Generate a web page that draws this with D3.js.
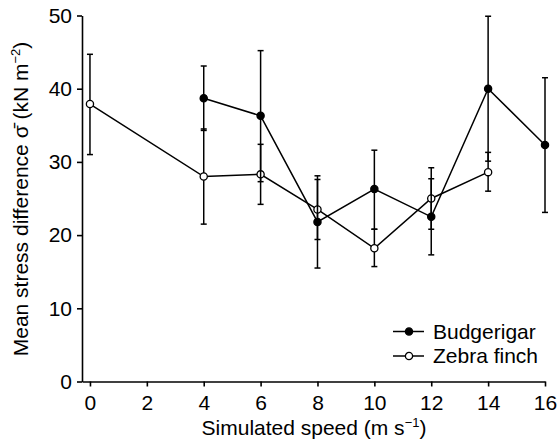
<!DOCTYPE html>
<html>
<head>
<meta charset="utf-8">
<script src="https://cdn.jsdelivr.net/npm/d3@7"></script>
<style>
  body { margin: 0; background: #fff; }
  svg { display: block; font-family: "Liberation Sans", Arial, sans-serif; }
  .axis path, .axis line { stroke: #000; stroke-width: 1.6; }
  .axis text { font-size: 21px; fill: #000; }
</style>
</head>
<body>
<svg width="559" height="446"></svg>
<script>
// values
var budgieSpeed = [4, 6, 8, 10, 12, 14, 16];
var budgieMean  = [38.7, 36.3, 21.8, 26.3, 22.5, 40.0, 32.3];
var budgieLow   = [34.3, 27.3, 15.5, 20.8, 17.3, 30.1, 23.1];
var budgieHigh  = [43.1, 45.2, 28.1, 31.6, 27.7, 49.9, 41.5];

var zebraSpeed = [0, 4, 6, 8, 10, 12, 14];
var zebraMean  = [37.9, 28.0, 28.3, 23.5, 18.2, 25.0, 28.6];
var zebraLow   = [31.0, 21.5, 24.2, 19.4, 15.7, 20.8, 26.0];
var zebraHigh  = [44.7, 34.5, 32.4, 27.6, 20.8, 29.2, 31.3];

var xTicks = [0, 2, 4, 6, 8, 10, 12, 14, 16];
var yTicks = [0, 10, 20, 30, 40, 50];

var svg = d3.select("svg");

var xScale = d3.scaleLinear().domain([-0.28, 16]).range([82, 545]);
var yScale = d3.scaleLinear().domain([0, 50]).range([381.5, 15.5]);

svg.append("g")
    .attr("class", "x axis")
    .attr("transform", "translate(0,381.5)")
    .call(d3.axisBottom(xScale).tickValues(xTicks).tickSize(5).tickSizeOuter(0).tickPadding(9));

svg.append("g")
    .attr("class", "y axis")
    .attr("transform", "translate(82,0)")
    .call(d3.axisLeft(yScale).tickValues(yTicks).tickSize(5).tickSizeOuter(0).tickPadding(5));

// axis titles
svg.append("text")
    .attr("x", 314)
    .attr("y", 435)
    .attr("text-anchor", "middle")
    .style("font-size", "21px")
    .html('Simulated speed (m s<tspan dy="-8" font-size="13">\u22121</tspan><tspan dy="8">)</tspan>');

svg.append("text")
    .attr("transform", "translate(28,199) rotate(-90)")
    .attr("text-anchor", "middle")
    .style("font-size", "21px")
    .html('Mean stress difference \u03c3\u0304 (kN m<tspan dy="-8" font-size="13">\u22122</tspan><tspan dy="8">)</tspan>');

function makeSeries(speed, mean, low, high) {
    return speed.map(function (s, i) {
        return {x: s, y: mean[i], lo: low[i], hi: high[i]};
    });
}

var budgie = makeSeries(budgieSpeed, budgieMean, budgieLow, budgieHigh);
var zebra = makeSeries(zebraSpeed, zebraMean, zebraLow, zebraHigh);

var line = d3.line()
    .x(function (d) { return xScale(d.x); })
    .y(function (d) { return yScale(d.y); });

function drawSeries(data) {
    var g = svg.append("g");
    g.append("path")
        .datum(data)
        .attr("d", line)
        .attr("fill", "none")
        .attr("stroke", "#000")
        .attr("stroke-width", 1.5);

    var eb = g.selectAll(".err")
        .data(data)
        .enter().append("g");
    eb.append("line")
        .attr("x1", function (d) { return xScale(d.x); })
        .attr("x2", function (d) { return xScale(d.x); })
        .attr("y1", function (d) { return yScale(d.lo); })
        .attr("y2", function (d) { return yScale(d.hi); })
        .attr("stroke", "#000").attr("stroke-width", 1.5);
    ["lo", "hi"].forEach(function (k) {
        eb.append("line")
            .attr("x1", function (d) { return xScale(d.x) - 3; })
            .attr("x2", function (d) { return xScale(d.x) + 3; })
            .attr("y1", function (d) { return yScale(d[k]); })
            .attr("y2", function (d) { return yScale(d[k]); })
            .attr("stroke", "#000").attr("stroke-width", 1.5);
    });
    return g;
}

function drawDots(g, data, filled) {
    g.selectAll(".dot")
        .data(data)
        .enter().append("circle")
        .attr("cx", function (d) { return xScale(d.x); })
        .attr("cy", function (d) { return yScale(d.y); })
        .attr("r", 3.6)
        .attr("fill", filled ? "#000" : "#fff")
        .attr("stroke", "#000")
        .attr("stroke-width", 1.3);
}

var gZ = drawSeries(zebra);
var gB = drawSeries(budgie);
drawDots(gZ, zebra, false);
drawDots(gB, budgie, true);

// legend
var legendItems = [["Budgerigar", true], ["Zebra finch", false]];
var legend = svg.selectAll(".legend")
    .data(legendItems)
    .enter().append("g")
    .attr("transform", function (d, i) { return "translate(0," + (331.5 + i * 24.5) + ")"; });
legend.append("line")
    .attr("x1", 393).attr("x2", 424)
    .attr("stroke", "#000").attr("stroke-width", 1.5);
legend.append("circle")
    .attr("cx", 409).attr("r", 3.6)
    .attr("fill", function (d) { return d[1] ? "#000" : "#fff"; })
    .attr("stroke", "#000").attr("stroke-width", 1.3);
legend.append("text")
    .attr("x", 433).attr("dy", "0.35em")
    .style("font-size", "21px")
    .text(function (d) { return d[0]; });
</script>
</body>
</html>
